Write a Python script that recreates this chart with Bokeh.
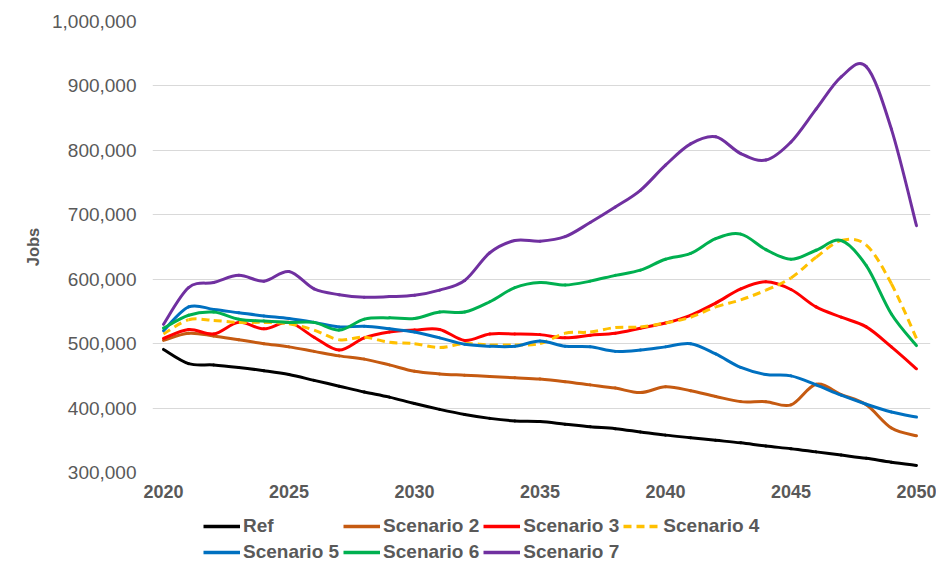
from bokeh.plotting import figure
from bokeh.layouts import column
from bokeh.models import ColumnDataSource, FixedTicker, NumeralTickFormatter, Legend, LegendItem
from bokeh.embed import file_html
from bokeh.resources import INLINE

years = list(range(2020, 2051))

ref = [491, 469, 467, 463, 458, 452, 443, 434, 425, 417, 407, 398, 390, 384, 380, 379,
       375, 371, 368, 363, 358, 354, 350, 346, 341, 337, 332, 327, 322, 316, 311]
scen2 = [505, 516, 512, 506, 500, 495, 488, 481, 476, 467, 457, 453, 451, 449, 447, 445,
         441, 436, 431, 424, 433, 427, 418, 410, 410, 405, 437, 421, 405, 369, 357]
scen3 = [508, 522, 515, 533, 523, 533, 510, 490, 509, 518, 521, 522, 505, 515, 515, 514,
         509, 513, 516, 524, 532, 544, 563, 585, 596, 584, 557, 541, 526, 495, 461]
scen4 = [515, 537, 536, 533, 533, 531, 521, 506, 510, 502, 500, 494, 500, 498, 498, 500,
         516, 518, 525, 526, 532, 541, 557, 568, 583, 602, 634, 660, 653, 593, 508]
scen5 = [520, 557, 553, 548, 543, 539, 533, 526, 527, 523, 518, 509, 499, 496, 496, 504,
         496, 495, 488, 490, 495, 500, 484, 463, 452, 450, 436, 420, 406, 394, 386]
scen6 = [524, 544, 549, 538, 535, 533, 533, 521, 538, 540, 539, 549, 549, 565, 587, 595,
         591, 597, 606, 614, 631, 640, 663, 670, 646, 631, 645, 660, 621, 546, 497]
scen7 = [530, 587, 595, 606, 597, 612, 585, 576, 572, 573, 575, 583, 598, 641, 660, 659,
         666, 688, 712, 738, 777, 810, 821, 795, 785, 813, 864, 914, 930, 833, 683]

series_names = ["Ref", "Scenario 2", "Scenario 3", "Scenario 4", "Scenario 5", "Scenario 6", "Scenario 7"]
series_vals = [ref, scen2, scen3, scen4, scen5, scen6, scen7]
series_colors = ["#000000", "#C55A11", "#FF0000", "#FFC000", "#0070C0", "#00B050", "#7030A0"]
series_dash = ["solid", "solid", "solid", "8 5", "solid", "solid", "solid"]

y_ticks = [300000, 400000, 500000, 600000, 700000, 800000, 900000, 1000000]
x_ticks = [2020, 2025, 2030, 2035, 2040, 2045, 2050]

TEXT = "#595959"
FONT = "Liberation Sans"


def smooth_source(xs, ys):
    """Bezier segments through the data points (Excel-style smoothed line)."""
    n = len(xs)
    d = dict(x0=[], y0=[], x1=[], y1=[], cx0=[], cy0=[], cx1=[], cy1=[])
    for i in range(n - 1):
        xm, ym = (xs[i - 1], ys[i - 1]) if i > 0 else (xs[i], ys[i])
        xp, yp = (xs[i + 2], ys[i + 2]) if i + 2 < n else (xs[i + 1], ys[i + 1])
        d["x0"].append(xs[i]); d["y0"].append(ys[i])
        d["x1"].append(xs[i + 1]); d["y1"].append(ys[i + 1])
        d["cx0"].append(xs[i] + (xs[i + 1] - xm) / 6.0)
        d["cy0"].append(ys[i] + (ys[i + 1] - ym) / 6.0)
        d["cx1"].append(xs[i + 1] - (xp - xs[i]) / 6.0)
        d["cy1"].append(ys[i + 1] - (yp - ys[i]) / 6.0)
    return ColumnDataSource(d)


p = figure(width=936, height=505, output_backend="svg", toolbar_location=None,
           x_range=(2019.562, 2050.558), y_range=(300000, 1000000),
           min_border_left=152, min_border_right=6, min_border_top=21, min_border_bottom=33)
p.outline_line_color = None
p.background_fill_color = "white"
p.border_fill_color = "white"
p.xgrid.grid_line_color = None
p.ygrid.grid_line_color = "#d9d9d9"
p.ygrid.grid_line_width = 1

p.yaxis.ticker = FixedTicker(ticks=y_ticks)
p.yaxis.formatter = NumeralTickFormatter(format="0,0")
p.xaxis.ticker = FixedTicker(ticks=x_ticks)
for ax in (p.xaxis[0], p.yaxis[0]):
    ax.axis_line_color = None
    ax.major_tick_line_color = None
    ax.minor_tick_line_color = None
    ax.major_tick_out = 0
    ax.major_tick_in = 0
    ax.minor_tick_out = 0
    ax.major_label_text_color = TEXT
    ax.major_label_text_font = FONT
p.xaxis.major_label_text_font_size = "18px"
p.yaxis.major_label_text_font_size = "19px"
p.xaxis.major_label_text_font_style = "bold"
p.xaxis.major_label_standoff = 12
p.yaxis.major_label_standoff = 16
p.yaxis.axis_label = "Jobs"
p.yaxis.axis_label_text_font = FONT
p.yaxis.axis_label_text_font_size = "16.5px"
p.yaxis.axis_label_text_font_style = "bold"
p.yaxis.axis_label_text_color = TEXT
p.yaxis.axis_label_standoff = 7

for name, vals, col, dash in zip(series_names, series_vals, series_colors, series_dash):
    ys = [v * 1000 for v in vals]
    src = smooth_source(years, ys)
    cap = "butt" if dash != "solid" else "round"
    p.bezier(x0="x0", y0="y0", x1="x1", y1="y1", cx0="cx0", cy0="cy0", cx1="cx1", cy1="cy1",
             source=src, line_color=col, line_width=3, line_dash=dash, line_cap=cap)

# legend strip below the chart (same frame alignment as the chart)
pl = figure(width=936, height=60, output_backend="svg", toolbar_location=None,
            x_range=(0, 1), y_range=(0, 1),
            min_border_left=152, min_border_right=6, min_border_top=0, min_border_bottom=0)
pl.axis.visible = False
pl.grid.visible = False
pl.outline_line_color = None
pl.border_fill_color = "white"
pl.background_fill_color = "white"
items = []
for name, col, dash in zip(series_names, series_colors, series_dash):
    # key-only renderers placed outside the visible range of the legend strip
    lr = pl.line(x=[-5, -4], y=[-5, -5], line_color=col, line_width=3.5, line_dash=dash)
    items.append(LegendItem(label=name, renderers=[lr]))

legend = Legend(items=items, location=(51, 2), orientation="horizontal", ncols=4,
                glyph_width=37, glyph_height=20, label_height=20, label_standoff=3,
                spacing=4, padding=0, margin=0, border_line_color=None,
                background_fill_alpha=0,
                label_text_font=FONT, label_text_font_size="19px",
                label_text_font_style="bold", label_text_color=TEXT)
pl.add_layout(legend, "center")

open("out.html", "w").write(file_html(column(p, pl), INLINE))
